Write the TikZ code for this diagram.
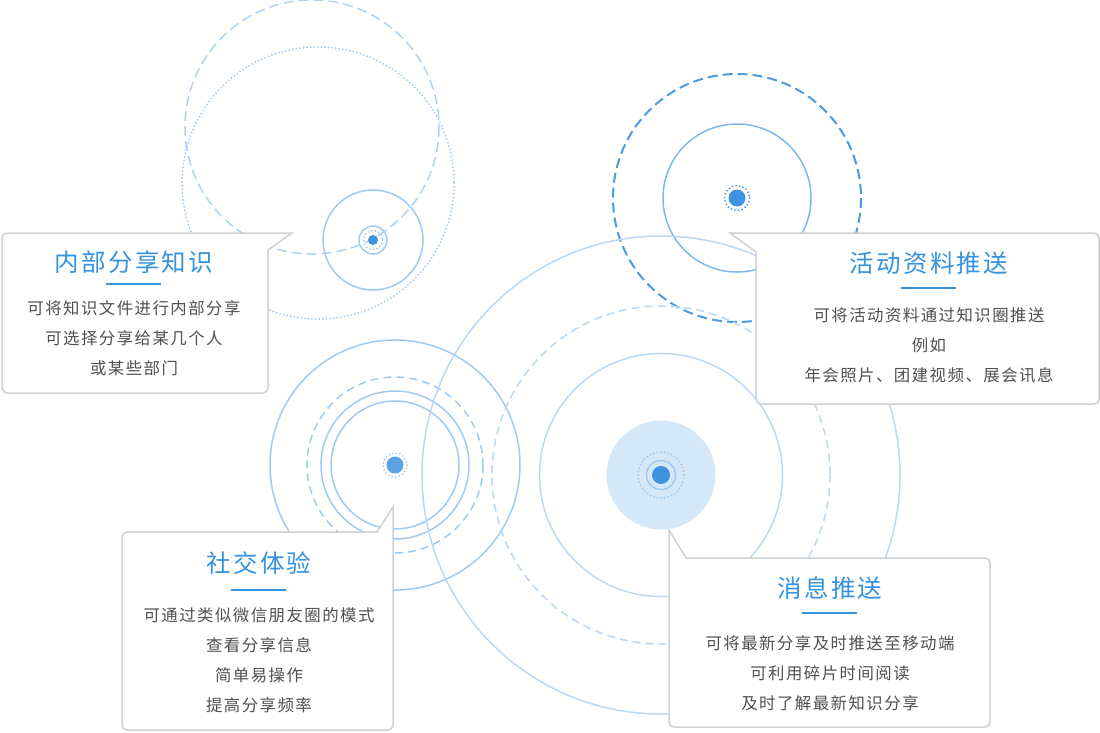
\documentclass[tikz,border=0pt]{standalone}
\usepackage{fontspec}
\newfontfamily\cjk[LetterSpace=9]{Noto Sans CJK SC}
\usepackage{tikz}
\usepackage{xcolor}
\definecolor{ringblue}{RGB}{186,216,243}
\definecolor{leftblue}{RGB}{160,203,240}
\definecolor{deepblue}{RGB}{74,155,226}
\definecolor{midblue}{RGB}{125,185,236}
\definecolor{dotblue}{RGB}{62,146,224}
\definecolor{diskblue}{RGB}{213,232,248}
\definecolor{titleblue}{RGB}{52,146,222}
\definecolor{textgray}{RGB}{80,80,80}
\definecolor{boxgray}{RGB}{208,208,208}

\begin{document}
\begin{tikzpicture}[x=1pt,y=-1pt,
  ring/.style={draw=ringblue, line width=1.5},
  dashring/.style={ring, dash pattern=on 8 off 5},
  dotring/.style={ring, line width=2, dash pattern=on 0pt off 3.6pt, line cap=round},
  callout/.style={draw=boxgray, fill=white, line width=1.5},
  ttl/.style={font=\cjk\fontsize{24.5}{28}\selectfont, text=titleblue, inner sep=0pt},
  body/.style={font=\cjk\fontsize{16.4}{30}\selectfont, text=textgray, align=center, inner sep=0pt},
  bar/.style={draw=titleblue, line width=2}]
\useasboundingbox (0,0) rectangle (1100,732);
% top left
\draw[dashring, draw=leftblue!85, dash pattern=on 10 off 5] (312,127) circle (127);
\draw[dotring, draw=leftblue] (318,183) circle (136);
\draw[ring, draw=leftblue] (373,240) circle (50);
\draw[ring, draw=leftblue] (373,240) circle (14);
\draw[dotring, draw=leftblue] (373,240) circle (9.5);
\fill[dotblue] (373,240) circle (5);
% top right
\draw[ring, draw=deepblue, line width=2, dash pattern=on 10 off 5] (737,198) circle (124);
\draw[ring, draw=midblue] (737,198) circle (74);
\draw[dotring, draw=deepblue] (737,198) circle (12.5);
\fill[dotblue] (737,198) circle (8.5);
% left
\draw[ring, draw=leftblue] (395,465) circle (125);
\draw[dashring, draw=leftblue] (395,465) circle (88);
\draw[ring, draw=leftblue] (395,465) circle (74);
\draw[ring, draw=leftblue] (395,465) circle (64);
\draw[dotring, draw=leftblue] (395,465) circle (12);
\fill[dotblue!85] (395,465) circle (8.5);
% middle
\draw[ring] (661,475) circle (239);
\draw[dashring] (661,475) circle (169);
\draw[ring] (661,475) circle (121.5);
\fill[diskblue] (661,475) circle (54.5);
\draw[dotring, draw=leftblue] (661,475) circle (23);
\draw[ring, draw=leftblue] (661,475) circle (14.5);
\fill[dotblue] (661,475) circle (9);
% boxes
\filldraw[callout] (292,233) -- (268,250) -- (268,388) arc[start angle=0,end angle=90,radius=5]
  -- (7,393) arc[start angle=90,end angle=180,radius=5]
  -- (2,238) arc[start angle=180,end angle=270,radius=5] -- cycle;
\filldraw[callout] (730,233) -- (1094,233) arc[start angle=270,end angle=360,radius=5]
  -- (1099,399) arc[start angle=0,end angle=90,radius=5]
  -- (761,404) arc[start angle=90,end angle=180,radius=5] -- (756,252) -- cycle;
\filldraw[callout] (393,507) -- (393,725) arc[start angle=0,end angle=90,radius=5]
  -- (127,730) arc[start angle=90,end angle=180,radius=5]
  -- (122,537) arc[start angle=180,end angle=270,radius=5] -- (377,532) -- cycle;
\filldraw[callout] (669,530) -- (686,558) -- (985,558) arc[start angle=270,end angle=360,radius=5]
  -- (990,722) arc[start angle=0,end angle=90,radius=5]
  -- (674,727) arc[start angle=90,end angle=180,radius=5] -- cycle;
% texts
\node[ttl] (inner) at (134,262) {内部分享知识};
\draw[bar] (106,284) -- (161,284);
\node[body] (innertxt) at (134,338) {可将知识文件进行内部分享\\可选择分享给某几个人\\或某些部门};
\node[ttl] (event) at (929,263) {活动资料推送};
\draw[bar] (901,288) -- (956,288);
\node[body] (eventtxt) at (929,345) {可将活动资料通过知识圈推送\\例如\\年会照片、团建视频、展会讯息};
\node[ttl] (social) at (259,563) {社交体验};
\draw[bar] (231,590) -- (286,590);
\node[body] (socialtxt) at (259,660) {可通过类似微信朋友圈的模式\\查看分享信息\\简单易操作\\提高分享频率};
\node[ttl] (push) at (830,588) {消息推送};
\draw[bar] (802,613) -- (857,613);
\node[body] (pushtxt) at (830,673) {可将最新分享及时推送至移动端\\可利用碎片时间阅读\\及时了解最新知识分享};
\end{tikzpicture}
\end{document}
